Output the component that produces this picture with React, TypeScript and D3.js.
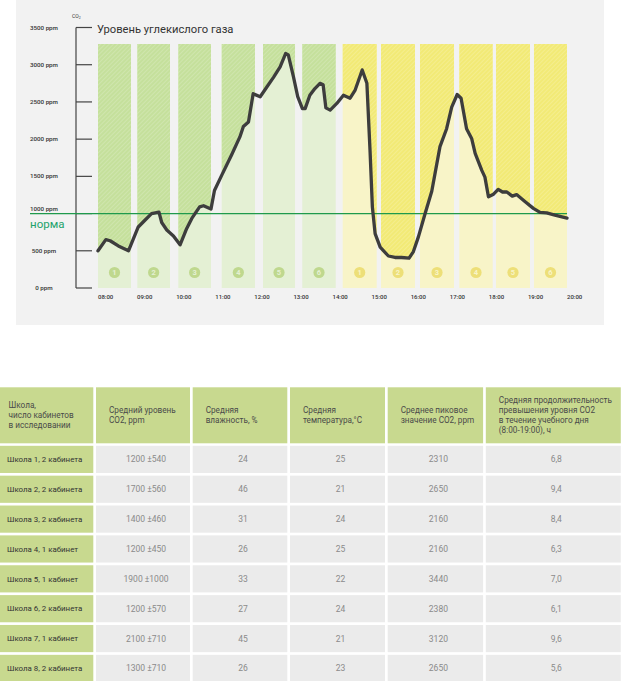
import * as d3 from "d3";

// CO2 level over the school day: [hour, ppm]
const co2Series: [number, number][] = [
  [8.0, 500], [8.2, 650], [8.31, 635], [8.52, 565], [8.78, 500], [9.03, 820], [9.2, 910],
  [9.37, 1000], [9.56, 1020], [9.63, 880], [9.76, 780], [9.93, 700], [10.1, 580], [10.27, 800],
  [10.4, 935], [10.6, 1090], [10.7, 1105], [10.89, 1060], [10.98, 1310], [11.17, 1520],
  [11.42, 1790], [11.63, 2030], [11.72, 2170], [11.85, 2230], [11.97, 2610], [12.15, 2570],
  [12.32, 2700], [12.49, 2830], [12.66, 2970], [12.8, 3150], [12.87, 3130], [13.0, 2840],
  [13.11, 2570], [13.23, 2410], [13.3, 2410], [13.42, 2590], [13.55, 2680], [13.68, 2750],
  [13.76, 2730], [13.83, 2420], [13.94, 2390], [14.11, 2480], [14.28, 2590], [14.45, 2550],
  [14.58, 2660], [14.76, 2930], [14.88, 2750], [14.96, 1850], [15.02, 1090], [15.09, 730],
  [15.22, 550], [15.43, 430], [15.6, 410], [15.77, 410], [15.96, 400], [16.07, 490],
  [16.2, 690], [16.37, 1000], [16.54, 1300], [16.75, 1900], [16.92, 2140], [17.05, 2430],
  [17.19, 2600], [17.29, 2550], [17.43, 2140], [17.56, 2010], [17.65, 1810], [17.82, 1580],
  [17.9, 1490], [17.99, 1225], [18.12, 1260], [18.24, 1325], [18.35, 1290], [18.46, 1290],
  [18.6, 1235], [18.71, 1255], [18.93, 1160], [19.14, 1070], [19.31, 1015], [19.48, 1010],
  [19.69, 980], [20.0, 940],
];

// lessons (two shifts of six)
const lessonStart = [8.0, 9.006, 10.055, 11.165, 12.222, 13.227, 14.261, 15.241, 16.239, 17.244, 18.183, 19.155];
const lessonEnd = [8.844, 9.842, 10.891, 12.017, 13.041, 14.082, 15.131, 16.111, 17.109, 18.099, 19.053, 20.0];
const lessonShift = [1, 1, 1, 1, 1, 1, 2, 2, 2, 2, 2, 2];
const lessonNumber = [1, 2, 3, 4, 5, 6, 1, 2, 3, 4, 5, 6];

const hourTicks = d3.range(8, 21);
const normPpm = 1000;

// table
const headers = [
  ["Школа,", "число кабинетов", "в исследовании"],
  ["Средний уровень", "CO2, ppm"],
  ["Средняя", "влажность, %"],
  ["Средняя", "температура,°C"],
  ["Среднее пиковое", "значение CO2, ppm"],
  ["Средняя продолжительность", "превышения уровня CO2", "в течение учебного дня", "(8:00-19:00), ч"],
];
const schools = [
  "Школа 1, 2 кабинета", "Школа 2, 2 кабинета", "Школа 3, 2 кабинета", "Школа 4, 1 кабинет",
  "Школа 5, 1 кабинет", "Школа 6, 2 кабинета", "Школа 7, 1 кабинет", "Школа 8, 2 кабинета",
];
const meanCo2 = ["1200 ±540", "1700 ±560", "1400 ±460", "1200 ±450", "1900 ±1000", "1200 ±570", "2100 ±710", "1300 ±710"];
const humidity = [24, 46, 31, 26, 33, 27, 45, 26];
const temperature = [25, 21, 24, 25, 22, 24, 21, 23];
const peakCo2 = [2310, 2650, 2160, 2160, 3440, 2380, 3120, 2650];
const duration = ["6,8", "9,4", "8,4", "6,3", "7,0", "6,1", "9,6", "5,6"];

const shiftColors: Record<number, { strong: string; light: string; dot: string }> = {
  1: { strong: "#c5e09c", light: "#e4f0d4", dot: "#bfd88e" },
  2: { strong: "#f2ea76", light: "#f8f4c8", dot: "#eddf78" },
};

const font = "Roboto, 'Noto Sans', sans-serif";

export default function App() {
  const width = 621;
  const height = 681;

  const x = d3.scaleLinear().domain([8, 20]).range([98, 567]);
  const y = d3.scaleLinear().domain([0, 3500]).range([288, 27.5]);
  const bandTop = 44;

  const line = d3.line<[number, number]>().x((d) => x(d[0])).y((d) => y(d[1]));
  const above = d3
    .area<[number, number]>()
    .x((d) => x(d[0]))
    .y0(bandTop)
    .y1((d) => y(d[1]));

  // table layout
  const colWidths = [93.3, 94, 94.6, 95, 95.4, 135];
  const colGap = 2.7;
  const colX: number[] = [];
  colWidths.reduce((acc, w) => {
    colX.push(acc);
    return acc + w + colGap;
  }, 0);
  const headTop = 387.3;
  const headBottom = 443.3;
  const rows = d3.scaleBand<number>().domain(d3.range(schools.length)).range([445.8, 682]).paddingInner(0.09);
  const rowValues = schools.map((s, i) => [s, meanCo2[i], String(humidity[i]), String(temperature[i]), String(peakCo2[i]), duration[i]]);

  return (
    <svg
      width={width}
      height={height}
      style={{ position: "absolute", left: 0, top: 0, display: "block", background: "#fff" }}
      fontFamily={font}
    >
      <defs>
        <pattern id="hatch" width={3} height={3} patternUnits="userSpaceOnUse" patternTransform="rotate(45)">
          <rect width={0.8} height={3} fill="#fff" opacity={0.22} />
        </pattern>
        <clipPath id="aboveLine">
          <path d={above(co2Series) ?? ""} />
        </clipPath>
      </defs>

      <rect x={16} y={0} width={588} height={325} fill="#f2f2f2" />

      {/* lesson bands */}
      {lessonStart.map((s, i) => {
        const c = shiftColors[lessonShift[i]];
        const bx = x(s);
        const bw = x(lessonEnd[i]) - bx;
        return (
          <g key={i}>
            <rect x={bx} y={bandTop} width={bw} height={y(0) - bandTop} fill={c.light} />
            <g clipPath="url(#aboveLine)">
              <rect x={bx} y={bandTop} width={bw} height={y(0) - bandTop} fill={c.strong} />
              <rect x={bx} y={bandTop} width={bw} height={y(0) - bandTop} fill="url(#hatch)" />
            </g>
            <circle cx={bx + bw / 2} cy={272.5} r={5.6} fill={c.dot} />
            <text
              x={bx + bw / 2}
              y={275.3}
              textAnchor="middle"
              fontSize={7.5}
              fontWeight={700}
              fill={c.light}
            >
              {lessonNumber[i]}
            </text>
          </g>
        );
      })}

      {/* y axis */}
      <line x1={76} x2={76} y1={y(3500)} y2={y(0)} stroke="#444" strokeWidth={1.2} />
      {y.ticks(7).map((t) => (
        <g key={t}>
          <line x1={76} x2={92} y1={y(t)} y2={y(t)} stroke="#444" strokeWidth={1.2} />
          <text
            x={44}
            y={y(t) + (t === normPpm ? -3 : 2)}
            textAnchor="middle"
            fontSize={6.2}
            fontWeight={500}
            fill="#333"
          >
            {t} ppm
          </text>
        </g>
      ))}
      <text x={72} y={18} fontSize={5} fill="#333">
        CO<tspan fontSize={3.5} dy={1}>2</tspan>
      </text>
      <text x={97} y={32.5} fontSize={11.2} fill="#333">
        Уровень углекислого газа
      </text>

      {/* x labels */}
      {hourTicks.map((h) => (
        <text key={h} x={x(h)} y={298.5} fontSize={6} fontWeight={500} fill="#333">
          {d3.format("02")(h)}:00
        </text>
      ))}

      {/* norm */}
      <line x1={30} x2={x(20)} y1={y(normPpm)} y2={y(normPpm)} stroke="#1f9a4c" strokeWidth={1.3} />
      <text x={30} y={228} fontSize={11.5} fill="#22a26a">
        норма
      </text>

      {/* co2 line */}
      <path d={line(co2Series) ?? ""} fill="none" stroke="#3d3d3d" strokeWidth={3.3} strokeLinejoin="round" strokeLinecap="round" />

      {/* table header */}
      {headers.map((lines, c) => (
        <g key={c}>
          <rect x={colX[c]} y={headTop} width={colWidths[c]} height={headBottom - headTop} fill="#c8d98f" />
          {lines.map((l, k) => (
            <text
              key={k}
              x={colX[c] + (c === 0 ? 8.5 : 13)}
              y={(headTop + headBottom) / 2 + (k - (lines.length - 1) / 2) * 10 + 2.8}
              fontSize={8.2}
              fill="#4a4a4a"
            >
              {l}
            </text>
          ))}
        </g>
      ))}

      {/* table body */}
      {rowValues.map((vals, r) => (
        <g key={r}>
          {vals.map((v, c) => {
            const ry = rows(r) ?? 0;
            const bh = rows.bandwidth();
            return (
              <g key={c}>
                <rect x={colX[c]} y={ry} width={colWidths[c]} height={bh} fill={c === 0 ? "#c8d98f" : "#ebebeb"} />
                {c === 0 ? (
                  <text x={colX[c] + 7} y={ry + bh / 2 + 2.8} fontSize={7.9} fill="#333">
                    {v}
                  </text>
                ) : (
                  <text
                    x={colX[c] + colWidths[c] / 2 + 3}
                    y={ry + bh / 2 + 3}
                    textAnchor="middle"
                    fontSize={8.5}
                    fill="#8a8a8a"
                  >
                    {v}
                  </text>
                )}
              </g>
            );
          })}
        </g>
      ))}
    </svg>
  );
}
